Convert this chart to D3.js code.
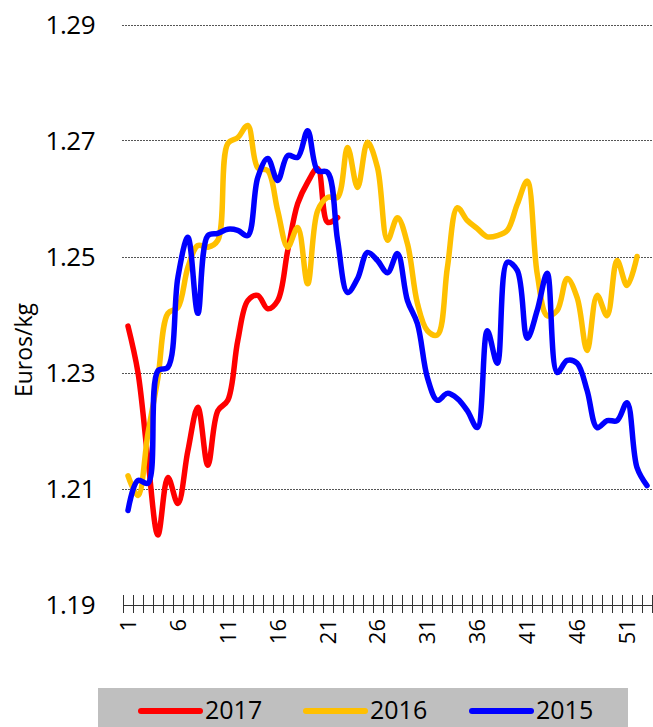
<!DOCTYPE html>
<html>
<head>
<meta charset="utf-8">
<script src="https://cdn.jsdelivr.net/npm/d3@7"></script>
<style>
  html, body { margin: 0; padding: 0; background: #fff; }
  svg { display: block; }
  text { font-family: "Open Sans", "DejaVu Sans", sans-serif; fill: #000; }
</style>
</head>
<body>
<svg id="chart" width="653" height="727"></svg>
<script>
// ---- data ----
const weeks = d3.range(1, 54);
const yTicks = [1.19, 1.21, 1.23, 1.25, 1.27, 1.29];
const xTickLabels = [1, 6, 11, 16, 21, 26, 31, 36, 41, 46, 51];
const seriesNames = ["2017", "2016", "2015"];
const seriesColors = ["#ff0000", "#ffc000", "#0000ff"];

const values2017 = [1.238, 1.230, 1.215, 1.202, 1.2119, 1.2074, 1.2165, 1.224, 1.214, 1.2234,
  1.2252, 1.2355, 1.2424, 1.2433, 1.241, 1.2424, 1.251, 1.2591, 1.2628, 1.2652,
  1.2559, 1.2567];

const values2016 = [1.2122, 1.2088, 1.2195, 1.2291, 1.2402, 1.2412, 1.2481, 1.2519, 1.2516, 1.2528,
  1.2695, 1.2705, 1.2726, 1.2653, 1.2648, 1.2579, 1.2516, 1.255, 1.2453, 1.2579,
  1.2602, 1.2602, 1.2688, 1.2619, 1.2697, 1.2653, 1.2528, 1.2567, 1.2522, 1.2419,
  1.2372, 1.2365, 1.2481, 1.2584, 1.2562, 1.2548, 1.2534, 1.2536, 1.2545, 1.259,
  1.263, 1.247, 1.2398, 1.2407, 1.2462, 1.2429, 1.2338, 1.2433, 1.2398, 1.2493,
  1.245, 1.25];

const values2015 = [1.2062, 1.2114, 1.2109, 1.2303, 1.2309, 1.2464, 1.2533, 1.2402, 1.2536, 1.254,
  1.2547, 1.2545, 1.2536, 1.2636, 1.2669, 1.2631, 1.2674, 1.2671, 1.2717, 1.2648,
  1.2645, 1.2528, 1.2438, 1.2462, 1.2507, 1.2493, 1.2472, 1.2505, 1.2424, 1.2384,
  1.2291, 1.2252, 1.2264, 1.2255, 1.2234, 1.2205, 1.2372, 1.2316, 1.249, 1.2476,
  1.2359, 1.2407, 1.2471, 1.23, 1.2321, 1.2316, 1.2269, 1.2205, 1.2217, 1.2217,
  1.2248, 1.2136, 1.2105];

const seriesValues = [values2017, values2016, values2015];

// ---- layout ----
const svg = d3.select("#chart");
const x = d3.scaleBand().domain(weeks).range([123, 652]).paddingInner(0).paddingOuter(0);
const y = d3.scaleLinear().domain([1.19, 1.29]).range([604.5, 24.5]);
const cx = w => x(w) + x.bandwidth() / 2;

// gridlines
svg.append("g").selectAll("line")
  .data(yTicks.filter(t => t > 1.19))
  .join("line")
  .attr("x1", 122).attr("x2", 653)
  .attr("y1", d => Math.round(y(d)) + 0.5).attr("y2", d => Math.round(y(d)) + 0.5)
  .attr("stroke", "#555").attr("stroke-width", 1)
  .attr("stroke-dasharray", "2 1");

// y tick labels
svg.append("g").selectAll("text")
  .data(yTicks)
  .join("text")
  .attr("x", 95).attr("y", d => y(d))
  .attr("dy", "0.36em")
  .attr("text-anchor", "end")
  .style("font-size", "26px")
  .style("letter-spacing", "-0.5px")
  .text(d => d3.format(".2f")(d));

// y axis title
svg.append("text")
  .attr("transform", "translate(32,350) rotate(-90)")
  .attr("text-anchor", "middle")
  .style("font-size", "23px")
  .text("Euros/kg");

// x axis line + ticks at category boundaries
const axisY = Math.round(y(1.19)) + 0.5;
const ax = svg.append("g");
ax.append("line")
  .attr("x1", x.range()[0]).attr("x2", x.range()[1])
  .attr("y1", axisY).attr("y2", axisY)
  .attr("stroke", "#333").attr("stroke-width", 1);
const boundaries = weeks.map(w => x(w)).concat([x.range()[1]]);
ax.selectAll("line.tk")
  .data(boundaries)
  .join("line").attr("class", "tk")
  .attr("x1", d => Math.round(d) + 0.5).attr("x2", d => Math.round(d) + 0.5)
  .attr("y1", 595).attr("y2", 613)
  .attr("stroke", "#333").attr("stroke-width", 1);

// x tick labels (rotated)
svg.append("g").selectAll("text")
  .data(xTickLabels)
  .join("text")
  .attr("transform", d => `translate(${cx(d)},619) rotate(-90)`)
  .attr("text-anchor", "end")
  .attr("dy", "0.36em")
  .style("font-size", "22px")
  .text(d => d);

// lines
const line = d3.line()
  .x((d, i) => cx(weeks[i]))
  .y(d => y(d))
  .curve(d3.curveCatmullRom.alpha(0.5));

svg.append("g").selectAll("path")
  .data(seriesValues)
  .join("path")
  .attr("d", d => line(d))
  .attr("fill", "none")
  .attr("stroke", (d, i) => seriesColors[i])
  .attr("stroke-width", 5.5)
  .attr("stroke-linejoin", "round")
  .attr("stroke-linecap", "round");

// legend
const lg = svg.append("g");
lg.append("rect")
  .attr("x", 98).attr("y", 688).attr("width", 530).attr("height", 40)
  .attr("fill", "#bfbfbf");
const legendX = [141, 306, 472];
seriesNames.forEach((name, i) => {
  lg.append("line")
    .attr("x1", legendX[i]).attr("x2", legendX[i] + 59)
    .attr("y1", 711).attr("y2", 711)
    .attr("stroke", seriesColors[i]).attr("stroke-width", 6)
    .attr("stroke-linecap", "round");
  lg.append("text")
    .attr("x", legendX[i] + 64).attr("y", 719)
    .style("font-size", "25px")
    .text(name);
});
</script>
</body>
</html>
